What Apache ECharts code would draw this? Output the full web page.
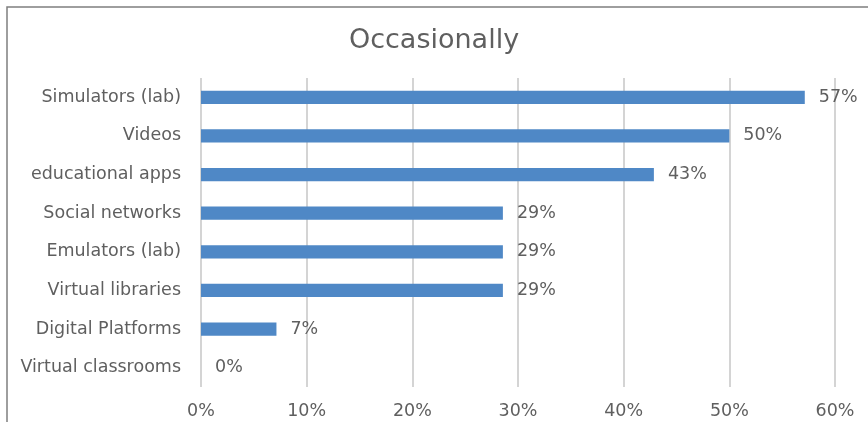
<!DOCTYPE html>
<html>
<head>
<meta charset="utf-8">
<script src="https://cdn.jsdelivr.net/npm/echarts@6/dist/echarts.min.js"></script>
<style>
  html, body { margin: 0; padding: 0; background: #fff; }
  #chart { width: 868px; height: 422px; }
</style>
</head>
<body>
<div id="chart"></div>
<script>
// categories listed top to bottom
var categories = ['Simulators (lab)', 'Videos', 'educational apps', 'Social networks',
  'Emulators (lab)', 'Virtual libraries', 'Digital Platforms', 'Virtual classrooms'];
var shares = [57.14, 50, 42.86, 28.57, 28.57, 28.57, 7.14, 0];
var tickLabels = ['0%', '10%', '20%', '30%', '40%', '50%', '60%'];

var font = '"DejaVu Sans", "Noto Sans", sans-serif';
var grey = '#5f5f5f';

var myChart = echarts.init(document.getElementById('chart'));
myChart.setOption({
  animation: false,
  title: {
    text: 'Occasionally',
    left: 'center',
    top: 22,
    textStyle: { fontFamily: font, fontSize: 27, fontWeight: 'normal', color: grey }
  },
  graphic: [{
    type: 'rect',
    shape: { x: 7, y: 7, width: 900, height: 500 },
    style: { fill: 'none', stroke: '#7f7f7f', lineWidth: 1.5 },
    silent: true
  }],
  grid: { left: 201, right: 33, top: 78, bottom: 35 },
  xAxis: {
    type: 'value',
    min: 0,
    max: 60,
    interval: 10,
    axisLine: { show: false },
    axisTick: { show: false },
    splitLine: { lineStyle: { color: '#d4d4d4', width: 2 } },
    axisLabel: {
      margin: 15,
      fontFamily: font, fontSize: 17.5, color: grey,
      formatter: function (v) { return tickLabels[v / 10]; }
    }
  },
  yAxis: {
    type: 'category',
    inverse: true,
    data: categories,
    axisLine: { show: false },
    axisTick: { show: false },
    axisLabel: { margin: 20, fontFamily: font, fontSize: 17.5, color: grey }
  },
  series: [{
    type: 'bar',
    data: shares,
    barWidth: '34%',
    itemStyle: { color: '#4f88c6' },
    label: {
      show: true,
      position: 'right',
      distance: 14,
      fontFamily: font, fontSize: 17.5, color: grey,
      formatter: function (p) { return Math.round(p.value) + '%'; }
    }
  }]
});
</script>
</body>
</html>
